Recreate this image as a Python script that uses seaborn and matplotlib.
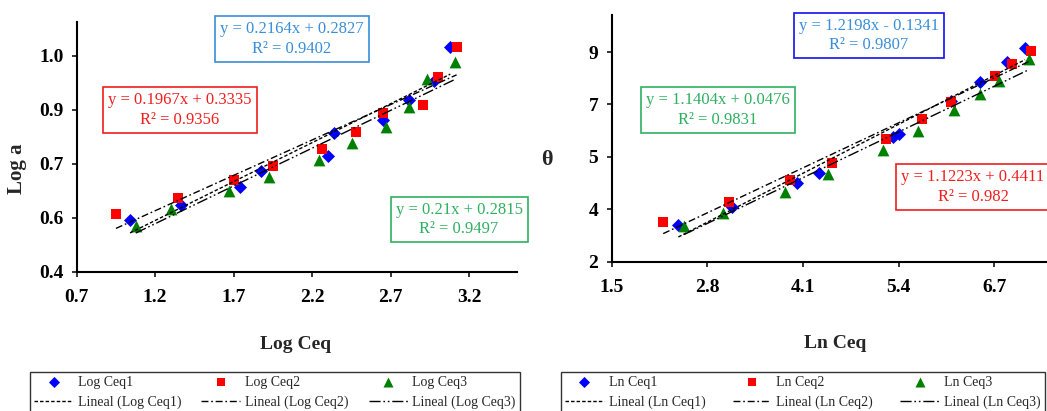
import numpy as np
import matplotlib
matplotlib.use('Agg')
import matplotlib.pyplot as plt
import seaborn as sns

# datos
log_ceq1_x = [1.04, 1.364, 1.74, 1.872, 2.30, 2.34, 2.65, 2.82, 2.976, 3.08]
log_ceq1_y = [0.544, 0.586, 0.635, 0.680, 0.722, 0.785, 0.822, 0.878, 0.930, 1.026]
log_ceq2_x = [0.95, 1.343, 1.70, 1.948, 2.26, 2.479, 2.649, 2.904, 3.003, 3.12]
log_ceq2_y = [0.560, 0.604, 0.655, 0.695, 0.741, 0.787, 0.841, 0.864, 0.942, 1.026]
log_ceq3_x = [1.076, 1.30, 1.672, 1.925, 2.245, 2.455, 2.67, 2.818, 2.929, 3.11]
log_ceq3_y = [0.528, 0.574, 0.623, 0.664, 0.711, 0.757, 0.801, 0.857, 0.936, 0.984]

ln_ceq1_x = [2.407, 3.132, 4.016, 4.32, 5.33, 5.41, 6.11, 6.51, 6.88, 7.12]
ln_ceq1_y = [3.19, 3.765, 4.545, 4.87, 6.04, 6.15, 7.20, 7.815, 8.46, 8.93]
ln_ceq2_x = [2.20, 3.10, 3.925, 4.50, 5.226, 5.725, 6.115, 6.713, 6.94, 7.198]
ln_ceq2_y = [3.30, 3.95, 4.65, 5.19, 5.97, 6.62, 7.165, 8.03, 8.41, 8.84]
ln_ceq3_x = [2.484, 3.01, 3.857, 4.446, 5.19, 5.67, 6.16, 6.51, 6.77, 7.18]
ln_ceq3_y = [3.16, 3.57, 4.27, 4.84, 5.63, 6.245, 6.93, 7.44, 7.87, 8.57]

# lineas de tendencia (ecuaciones de la figura)
log_slopes = [0.2164, 0.1967, 0.21]
log_intercepts = [0.2827, 0.3335, 0.2815]
log_r2 = ['0.9402', '0.9356', '0.9497']
ln_slopes = [1.2198, 1.1223, 1.1404]
ln_intercepts = [-0.1341, 0.4411, 0.0476]
ln_r2 = ['0.9807', '0.982', '0.9831']

log_eqs = ['y = 0.2164x + 0.2827', 'y = 0.1967x + 0.3335', 'y = 0.21x + 0.2815']
ln_eqs = ['y = 1.2198x - 0.1341', 'y = 1.1223x + 0.4411', 'y = 1.1404x + 0.0476']

log_xticks = [0.7, 1.2, 1.7, 2.2, 2.7, 3.2]
log_xlabels = ['0.7', '1.2', '1.7', '2.2', '2.7', '3.2']
log_yticks = [0.4, 0.55, 0.7, 0.85, 1.0]
log_ylabels = ['0.4', '0.6', '0.7', '0.9', '1.0']
ln_xticks = [1.5, 2.8, 4.1, 5.4, 6.7]
ln_xlabels = ['1.5', '2.8', '4.1', '5.4', '6.7']
ln_yticks = [2, 3.7, 5.4, 7.1, 8.8]
ln_ylabels = ['2', '4', '5', '7', '9']

sns.set_style('ticks')
plt.rcParams['font.family'] = ['Liberation Serif', 'DejaVu Serif']

W, H = 1047, 411
fig = plt.figure(figsize=(W / 100, H / 100), dpi=100)
ax1 = fig.add_axes([76.7 / W, 1 - 271.7 / H, 440.3 / W, 250 / H])
ax2 = fig.add_axes([611.7 / W, 1 - 261.7 / H, 435 / W, 246.7 / H])

colors = ['#0000FF', '#FF0000', '#008000']
markers = ['D', 's', '^']
sizes = [44, 56, 72]
line_styles = [(0, (2.5, 1.5)), (0, (5, 2, 1.2, 2)), (0, (8, 2, 1.2, 2, 1.2, 2))]
text_colors = ['#3A8ED8', '#F01E1E', '#2EB060']
edge_colors_left = ['#3A8ED8', '#F01E1E', '#2EB060']
edge_colors_right = ['#1010F0', '#F01E1E', '#2EB060']


def draw_panel(ax, xs, ys, slopes, intercepts, prefix):
    for i in range(3):
        sns.scatterplot(x=xs[i], y=ys[i], ax=ax, marker=markers[i], s=sizes[i],
                        color=colors[i], linewidth=0, zorder=3,
                        label=f'{prefix}{i + 1}')
    for i in range(3):
        xr = np.array([min(xs[i]), max(xs[i])])
        sns.lineplot(x=xr, y=slopes[i] * xr + intercepts[i], ax=ax, color='black',
                     linewidth=1.0, linestyle=line_styles[i], zorder=4,
                     label=f'Lineal ({prefix}{i + 1})')
    if ax.get_legend() is not None:
        ax.get_legend().remove()


draw_panel(ax1, [log_ceq1_x, log_ceq2_x, log_ceq3_x],
           [log_ceq1_y, log_ceq2_y, log_ceq3_y], log_slopes, log_intercepts, 'Log Ceq')
draw_panel(ax2, [ln_ceq1_x, ln_ceq2_x, ln_ceq3_x],
           [ln_ceq1_y, ln_ceq2_y, ln_ceq3_y], ln_slopes, ln_intercepts, 'Ln Ceq')

ax1.set_xlim(0.7, 3.505)
ax1.set_ylim(0.4, 1.095)
ax2.set_xlim(1.5, 7.415)
ax2.set_ylim(2, 10)

for ax, xt, xl, yt, yl in [(ax1, log_xticks, log_xlabels, log_yticks, log_ylabels),
                           (ax2, ln_xticks, ln_xlabels, ln_yticks, ln_ylabels)]:
    ax.set_xticks(xt, labels=xl, fontweight='bold')
    ax.set_yticks(yt, labels=yl, fontweight='bold')
    ax.tick_params(axis='both', direction='out', length=3.6, width=1.1, labelsize=14,
                   color='black', labelcolor='black')
    ax.tick_params(axis='x', pad=9)
    ax.tick_params(axis='y', pad=6)
    sns.despine(ax=ax)
    for sp in ['left', 'bottom']:
        ax.spines[sp].set_linewidth(1.5)
        ax.spines[sp].set_color('black')
    ax.set_facecolor('white')

ax1.set_xlabel('Log Ceq', fontsize=14, fontweight='bold', va='center')
ax1.xaxis.set_label_coords(0.498, -0.29)
ax1.set_ylabel('Log a', fontsize=15, fontweight='bold', va='center')
ax1.yaxis.set_label_coords(-0.136, 0.41)

ax2.set_xlabel('Ln Ceq', fontsize=14, fontweight='bold', va='center')
ax2.xaxis.set_label_coords(0.513, -0.33)
ax2.set_ylabel('θ', fontsize=16, fontweight='bold', rotation=0, va='center', ha='center')
ax2.yaxis.set_label_coords(-0.149, 0.412)

# cuadros con ecuaciones (posiciones en pixeles de la figura)
left_boxes = [(291.7, 39), (180, 110), (459, 219.5)]
right_boxes = [(869, 35.5), (973, 187), (717.8, 109.7)]
for i in range(3):
    cx, cy = left_boxes[i]
    fig.text(cx / W, 1 - cy / H, f'{log_eqs[i]}\nR² = {log_r2[i]}', ha='center', va='center',
             ma='center', fontsize=12, color=text_colors[i], linespacing=1.3,
             bbox=dict(boxstyle='square,pad=0.3', fc='white', ec=edge_colors_left[i], lw=1.2))
    cx, cy = right_boxes[i]
    fig.text(cx / W, 1 - cy / H, f'{ln_eqs[i]}\nR² = {ln_r2[i]}', ha='center', va='center',
             ma='center', fontsize=12, color=text_colors[i], linespacing=1.3,
             bbox=dict(boxstyle='square,pad=0.3', fc='white', ec=edge_colors_right[i], lw=1.2))

# leyendas inferiores
for ax, prefix, x0, width in [(ax1, 'Log Ceq', 30, 490), (ax2, 'Ln Ceq', 560.7, 484)]:
    h, l = ax.get_legend_handles_labels()
    lookup = dict(zip(l, h))
    order = []
    for i in range(3):
        order += [f'{prefix}{i + 1}', f'Lineal ({prefix}{i + 1})']
    leg = fig.legend([lookup[k] for k in order], order, ncol=3, loc='upper left',
                     bbox_to_anchor=(x0 / W, 1 - 371.7 / H, width / W, 0), mode='expand',
                     borderaxespad=0, fontsize=10, frameon=True, fancybox=False,
                     edgecolor='black', handlelength=2.8, handletextpad=0.35,
                     labelspacing=0.45, borderpad=0.3, markerscale=0.85)
    leg.get_frame().set_linewidth(1.0)

fig.savefig('out.png', dpi=100)
